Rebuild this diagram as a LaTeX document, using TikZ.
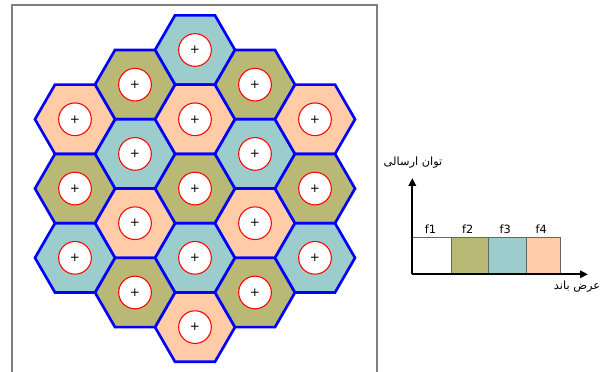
\documentclass[tikz,border=0pt]{standalone}
\usepackage{fontspec}
\setmainfont{DejaVu Sans}
\newfontfamily\farsifont[Script=Arabic]{DejaVu Sans}
\TeXXeTstate=1
\usepackage{tikz}
\usetikzlibrary{arrows.meta,positioning,shapes.geometric}
\definecolor{cellTeal}{RGB}{156,205,204}
\definecolor{cellOlive}{RGB}{185,185,117}
\definecolor{cellPeach}{RGB}{255,204,167}
\definecolor{frameGray}{RGB}{128,128,128}
\tikzset{
    hexCell/.style={
        regular polygon,
        regular polygon sides=6,
        draw=blue,
        line width=2pt,
        line join=miter,
        minimum size=60pt,
        inner sep=0pt,
        outer sep=0pt
    },
    siteCircle/.style={
        circle,
        draw=red,
        fill=white,
        line width=0.8pt,
        minimum size=24.5pt,
        inner sep=0pt,
        font=\fontsize{9}{9}\selectfont
    },
    bandBox/.style={
        draw=black!60,
        line width=0.6pt,
        inner sep=0pt,
        outer sep=0pt,
        minimum height=27.75pt,
        anchor=south west
    },
    bandLabel/.style={
        anchor=base,
        inner sep=0pt,
        font=\fontsize{8.5}{10}\selectfont
    },
    axisArrow/.style={
        -{Triangle[length=6pt,width=5.5pt]},
        line width=1.5pt
    },
    axisLabel/.style={
        inner sep=0pt,
        font=\fontsize{8.5}{10}\farsifont
    }
}

\begin{document}
\begin{tikzpicture}[x=0.75pt,y=0.75pt]
    \useasboundingbox (0,0) rectangle (605,371);
    % frame round the cell plan
    \draw[frameGray,line width=0.8pt] (12,-2) -- (12,366) -- (377,366) -- (377,-2);

    % hexagonal cells: column/half-row/colour
    \foreach \c/\k/\col in {0/0/cellTeal,0/2/cellPeach,0/4/cellOlive,0/6/cellTeal,0/8/cellPeach,
        -1/1/cellOlive,-1/3/cellTeal,-1/5/cellPeach,-1/7/cellOlive,
        1/1/cellOlive,1/3/cellTeal,1/5/cellPeach,1/7/cellOlive,
        -2/2/cellPeach,-2/4/cellOlive,-2/6/cellTeal,
        2/2/cellPeach,2/4/cellOlive,2/6/cellTeal}{
        \node[hexCell,fill=\col] (hex\c\k) at ({195+60*\c},{321-34.64*\k}) {};
        \node[siteCircle] (site\c\k) at (hex\c\k.center) {+};
    }

    % band plot
    \coordinate (origin) at (412.3,96.7);
    \coordinate (powerTip) at (412.3,193);
    \coordinate (bandTip) at (588,96.7);

    \node[bandBox,minimum width=29.25pt] (f1box) at (origin) {};
    \node[bandBox,minimum width=27.75pt,fill=cellOlive] (f2box) at (f1box.south east) {};
    \node[bandBox,minimum width=28.3pt,fill=cellTeal] (f3box) at (f2box.south east) {};
    \node[bandBox,minimum width=25.7pt,fill=cellPeach] (f4box) at (f3box.south east) {};

    \node[bandLabel] (f1lab) at ([xshift=-1pt,yshift=3pt]f1box.north) {f1};
    \node[bandLabel] (f2lab) at ([xshift=-1.5pt,yshift=3pt]f2box.north) {f2};
    \node[bandLabel] (f3lab) at ([xshift=-1.5pt,yshift=3pt]f3box.north) {f3};
    \node[bandLabel] (f4lab) at ([xshift=-1.5pt,yshift=3pt]f4box.north) {f4};

    \draw[axisArrow] (origin) -- (powerTip);
    \draw[axisArrow] (origin) -- (bandTip);

    \node[axisLabel] (powerLab) at (413,208) {\beginR توان ارسالی\endR};
    \node[axisLabel] (bandLab) at (577,84) {\beginR عرض باند\endR};
\end{tikzpicture}
\end{document}
